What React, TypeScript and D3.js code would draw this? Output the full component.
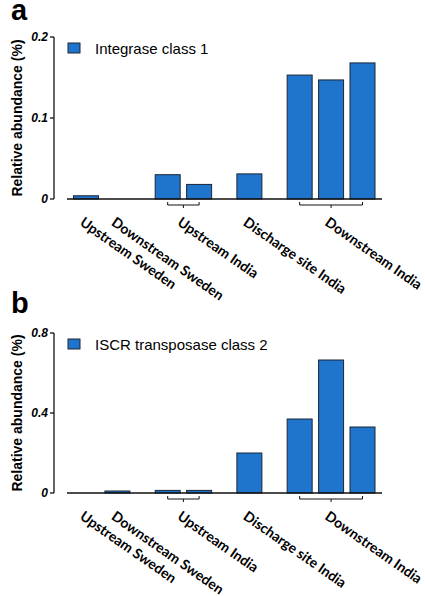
import React from "react";
import * as d3 from "d3";

const categories = ["Upstream Sweden", "Downstream Sweden", "Upstream India", "Upstream India", "Discharge site India", "Downstream India", "Downstream India", "Downstream India"];
// slot positions (group gaps)
const slotPositions = [0, 1, 2.6, 3.6, 5.2, 6.8, 7.8, 8.8];
const groupLabels = ["Upstream Sweden", "Downstream Sweden", "Upstream India", "Discharge site India", "Downstream India"];
const groupMembers = [[0], [1], [2, 3], [4], [5, 6, 7]];

const integraseValues = [0.004, 0, 0.030, 0.018, 0.031, 0.153, 0.147, 0.168];
const iscrValues = [0, 0.01, 0.013, 0.013, 0.2, 0.37, 0.665, 0.33];

const panelATicks = [0, 0.1, 0.2];
const panelATickLabels = ["0", "0.1", "0.2"];
const panelBTicks = [0, 0.4, 0.8];
const panelBTickLabels = ["0", "0.4", "0.8"];

const FILL = "#1f74cc";
const STROKE = "#1b2636";

type PanelProps = {
  letter: string;
  letterY: number;
  legend: string;
  values: number[];
  yMax: number;
  ticks: number[];
  tickLabels: string[];
  top: number; // y pixel of yMax
  base: number; // y pixel of 0
};

function Panel({ letter, letterY, legend, values, yMax, ticks, tickLabels, top, base }: PanelProps) {
  const y = d3.scaleLinear().domain([0, yMax]).range([base, top]);
  const x = d3.scaleLinear().domain([0, 8.8]).range([86, 362.5]);
  const bw = 25;
  const axisX = 54;
  const labelFont = "Lato, 'Open Sans', sans-serif";
  return (
    <g>
      <text x={11} y={letterY} fontFamily="'Liberation Sans', Arial, sans-serif" fontWeight="bold" fontSize={29}>{letter}</text>
      {/* y axis */}
      <line x1={axisX} x2={axisX} y1={top} y2={base} stroke="#111" strokeWidth={1.3} />
      {ticks.map((t, i) => (
        <g key={i}>
          <line x1={axisX - 4} x2={axisX} y1={y(t)} y2={y(t)} stroke="#111" strokeWidth={1.3} />
          <text x={axisX - 6} y={y(t) + 4} textAnchor="end" fontFamily="'Liberation Sans', Arial, sans-serif" fontWeight="bold" fontStyle="italic" fontSize={12}>{tickLabels[i]}</text>
        </g>
      ))}
      <text transform={`translate(22, ${(top + base) / 2}) rotate(-90)`} textAnchor="middle" fontFamily="'Liberation Sans', Arial, sans-serif" fontWeight="bold" fontSize={14}>Relative abundance (%)</text>
      {/* bars */}
      {values.map((v, i) => {
        const cx = x(slotPositions[i]);
        const h = base - y(v);
        if (h <= 0) return null;
        return <rect key={i} x={cx - bw / 2} y={y(v)} width={bw} height={h} fill={FILL} stroke={STROKE} strokeWidth={1} />;
      })}
      {/* x baseline */}
      <line x1={67} x2={382} y1={base} y2={base} stroke="#111" strokeWidth={1.3} />
      {/* brackets and labels */}
      {groupLabels.map((lab, gi) => {
        const mem = groupMembers[gi];
        const xs = mem.map((m) => x(slotPositions[m]));
        const cx = d3.mean(xs) as number;
        const x0 = d3.min(xs) as number;
        const x1 = d3.max(xs) as number;
        return (
          <g key={gi}>
            {mem.length > 1 && (
              <path d={`M${x0},${base + 3}V${base + 6}H${x1}V${base + 3}M${cx},${base + 6}V${base + 9}`} fill="none" stroke="#111" strokeWidth={1} />
            )}
            <text transform={`translate(${cx - 1}, ${base + 17}) rotate(35)`} dy="0.75em" fontFamily={labelFont} fontWeight="bold" fontSize={14}>{lab}</text>
          </g>
        );
      })}
      {/* legend */}
      <rect x={68} y={top + 6} width={12} height={10} fill={FILL} stroke={STROKE} strokeWidth={1} />
      <text x={95} y={top + 17} fontFamily="'Liberation Sans', Arial, sans-serif" fontSize={15}>{legend}</text>
    </g>
  );
}

export default function App() {
  return (
    <svg width={425} height={596} style={{ position: "absolute", left: 0, top: 0, background: "#fff" }}>
      <rect width={425} height={596} fill="#fff" />
      <Panel letter="a" letterY={20} legend="Integrase class 1" values={integraseValues} yMax={0.2} ticks={panelATicks} tickLabels={panelATickLabels} top={37} base={199} />
      <Panel letter="b" letterY={313} legend="ISCR transposase class 2" values={iscrValues} yMax={0.8} ticks={panelBTicks} tickLabels={panelBTickLabels} top={333} base={493} />
    </svg>
  );
}
